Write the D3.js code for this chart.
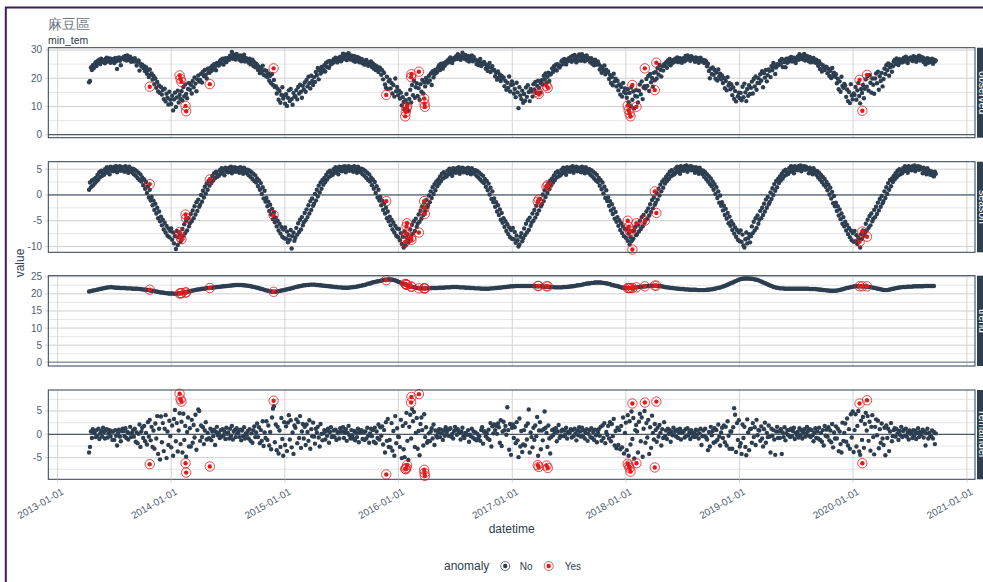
<!DOCTYPE html>
<html><head><meta charset="utf-8">
<script src="https://cdn.jsdelivr.net/npm/d3@7"></script>
<style>
body{margin:0;background:#fff}
svg text{font-family:"Liberation Sans",Arial,sans-serif}
</style>
</head><body>
<svg id="chart" width="983" height="582"></svg>
<script>
const titleText = "麻豆區";
const subtitleText = "min_tem";
const facetKeys = ["observed", "season", "trend", "remainder"];
const startDate = "2013-04-12";
const pointStepDays = 3;   // observed / season / remainder sampling
const trendStepDays = 5;   // trend sampling

const observed = [
18.6,19.0,23.8,22.9,24.6,23.5, 24.9,25.7,24.3,26.1,25.4,26.6,25.0,26.9,25.8,26.4, 26.2,25.3,26.9,27.3,25.9,26.6,27.0,25.5,26.8,26.1, 26.7,25.4,27.2,26.0,23.3,26.5,27.4,26.2,24.6,26.9,27.1, 27.5,26.6,27.9,26.3,28.1,27.0,26.4,27.6,25.8,26.9, 26.7,25.9,27.1,26.0,24.5,25.8,26.3,22.7,25.1,24.2, 24.8,23.6,24.3,22.5,23.9,21.6,22.9,20.4,23.1,21.2, 21.7,19.5,20.8,17.9,19.9,16.6,18.7,15.3,17.4,14.8, 16.9,14.2,15.8,12.6,16.3,11.8,14.5,13.1,10.7,15.2,12.4,
10.9,13.8,8.6,12.5,14.9,9.8,13.2,15.6,11.4,14.1,12.7, 15.4,12.1,16.9,13.6,17.8,14.4,12.9,16.2,18.3, 15.9,17.7,14.6,19.0,16.8,20.3,18.1,15.4,19.6,21.0,18.8, 19.4,21.6,18.5,22.3,20.8,22.9,21.2,19.9,23.4,22.1, 21.9,23.7,22.6,24.4,23.1,25.0,24.2,22.8,25.4,24.7, 24.5,25.9,26.5,25.2,26.9,24.8,26.3,27.1,25.7,26.6, 27.2,26.5,28.0,27.4,29.3,26.9,28.3,27.7,26.6,28.6,27.8, 27.4,26.5,28.1,26.0,27.6,26.8,28.3,25.9,27.2,26.4, 26.4,25.5,26.9,24.9,25.9,26.6,24.3,25.7,23.9,25.1, 24.7,22.9,24.1,21.8,23.5,22.3,24.4,21.2,22.8,20.9, 22.6,20.4,21.7,19.1,20.9,18.2,21.5,17.6,19.4,16.9, 17.2,14.6,16.3,12.4,15.5,11.3,14.1,16.8,12.8,13.9,
11.0,14.3,10.2,13.1,15.7,11.9,16.2,12.6,10.6,14.8,13.4, 13.6,15.8,12.5,16.9,14.6,17.7,15.2,13.1,17.3, 16.0,18.5,15.2,19.4,17.1,20.5,18.2,16.4,20.9,19.0,17.6, 20.4,18.7,22.2,21.0,23.6,19.6,22.8,21.7,24.0,22.4, 23.2,24.6,22.4,25.5,24.0,25.9,23.7,26.1,24.9,25.6, 25.3,26.7,25.9,27.3,26.2,25.6,27.1,26.4,27.6,26.0, 27.4,28.7,26.8,27.9,28.4,26.4,27.7,28.9,27.1,26.6,28.1, 27.2,26.2,27.9,25.8,26.9,27.5,26.0,27.3,25.6,26.7, 26.8,25.3,26.2,24.8,25.9,26.5,25.0,24.4,25.7,24.9, 25.9,24.0,25.2,23.4,24.7,22.9,24.3,23.1,22.2,23.8, 23.5,21.2,22.8,19.6,21.9,17.8,16.6,20.5,16.2,18.9, 19.5,16.4,18.3,14.6,17.6,13.5,19.9,15.4,16.9,14.0,
15.6,12.8,14.9,10.4,13.3,11.6,9.1,12.2,14.4,10.9,8.5, 12.7,15.9,11.4,17.6,14.0,19.1,13.1,16.8,18.2, 13.7,16.5,12.4,17.9,15.2,19.4,14.6,18.6,17.1,20.1,19.0, 18.5,20.8,19.2,21.7,17.6,22.5,20.3,21.4,23.0,21.9, 22.3,23.9,24.6,22.9,25.1,24.0,23.4,25.3,24.4,25.7, 25.2,26.3,25.6,26.9,27.4,26.0,25.4,27.0,26.5,27.3, 27.7,26.8,28.5,27.1,28.0,26.5,27.6,29.0,27.3,26.9,28.2, 27.0,26.3,27.9,25.9,27.3,26.6,28.1,26.0,27.5,26.4, 26.6,25.0,26.2,24.7,25.6,26.8,24.3,25.3,24.9,25.8, 25.1,23.4,24.6,22.6,24.0,25.4,22.2,23.7,24.3,22.8, 22.9,20.7,21.9,19.5,22.4,20.2,21.3,19.0,20.8,19.9, 20.3,17.2,19.0,15.9,18.4,16.6,20.6,15.3,17.7,18.9,
17.8,14.6,16.2,13.3,18.4,15.0,9.4,16.8,13.9,12.6,15.6, 11.3,14.4,12.0,16.7,13.4,17.5,15.1,11.9,16.2, 15.3,13.5,17.9,16.0,18.7,14.8,17.3,19.1,16.6,14.9,18.2, 19.3,17.8,20.9,19.6,21.7,18.4,20.5,22.0,19.0,21.3, 21.6,23.5,22.3,24.3,23.2,24.8,22.7,25.0,24.1,23.8, 24.4,25.9,26.4,25.0,26.8,25.5,24.9,26.6,26.0,27.1, 26.7,27.5,25.8,27.9,26.4,28.2,27.0,25.6,27.7,26.3,28.4, 27.6,26.2,28.5,26.8,27.8,26.0,27.3,28.1,26.5,27.1, 26.9,25.6,27.1,25.1,26.3,24.6,26.6,25.4,24.8,25.9, 25.0,23.1,24.3,21.9,23.6,22.6,24.5,21.4,23.0,22.2, 22.4,19.7,21.2,18.3,20.4,17.5,21.6,18.9,19.8,17.1, 19.1,15.7,17.8,14.2,16.9,13.5,18.3,15.1,16.4,14.7,
13.1,16.1,11.5,14.8,10.1,16.9,12.4,15.3,9.4,13.7,15.8, 13.5,11.4,15.6,17.8,14.3,18.9,12.6,16.7,17.2, 16.4,19.7,17.3,20.8,15.5,21.5,18.6,20.1,17.0,21.9,19.3, 22.2,19.9,23.6,21.3,24.7,23.0,20.6,24.2,22.7,25.0, 24.3,25.6,23.7,26.3,25.1,26.8,24.6,26.0,25.4,26.5, 25.8,26.9,26.1,27.4,25.7,26.6,27.1,26.3,25.5,26.8, 27.1,26.0,27.9,26.5,28.1,26.8,27.5,26.2,27.8,26.7,27.3, 26.9,25.8,27.4,26.1,27.1,25.5,26.7,27.3,25.9,26.4, 26.5,25.4,26.3,25.9,24.2,25.1,22.6,20.0,23.4,21.5, 23.8,21.2,22.9,19.8,22.0,19.2,23.1,20.5,21.6,19.6, 21.0,18.3,20.1,16.5,19.0,15.7,20.4,17.4,18.2,16.1, 17.8,14.0,16.7,12.7,15.5,11.8,18.1,13.6,14.9,12.9,
14.8,12.2,17.0,13.3,18.1,15.0,11.9,16.2,13.8,17.5,14.4, 16.6,18.8,14.6,19.7,17.1,20.6,15.9,18.3,20.0, 18.3,21.4,19.2,22.5,16.8,21.8,20.2,22.9,18.9,21.1,23.1, 22.6,20.4,24.3,22.9,25.4,24.1,21.5,23.8,25.0,24.6, 24.7,26.2,25.2,26.8,24.0,26.5,25.7,23.9,26.9,25.5, 25.8,27.1,26.2,27.5,25.9,26.8,27.3,26.0,25.4,26.9, 27.6,26.5,28.5,27.0,28.0,26.7,27.7,28.6,26.3,27.4,27.9, 27.1,26.0,27.5,25.6,26.9,25.8,27.2,26.4,25.5,26.6, 25.6,24.4,26.0,23.3,25.0,22.4,24.6,23.8,22.9,24.1, 24.0,21.8,23.3,20.8,22.6,20.1,23.6,21.2,22.0,20.5, 21.4,18.2,19.8,16.1,18.9,15.2,20.5,17.3,16.6,18.0, 17.4,13.4,16.0,11.9,15.1,11.2,17.9,13.9,12.5,14.6,
14.1,16.9,12.4,15.7,18.3,13.7,11.1,16.2,14.8,17.6,12.9, 16.3,19.6,17.0,20.8,15.6,21.1,18.4,14.9,19.9, 17.7,14.5,19.9,21.7,18.2,22.3,15.9,20.7,19.0,21.9,17.1, 19.7,23.4,21.5,24.6,22.8,25.2,20.9,23.9,24.8,22.3, 24.2,25.9,26.5,25.0,27.0,26.2,24.7,26.7,25.6,26.4, 25.6,26.8,27.3,25.9,27.6,26.3,25.4,27.0,26.6,27.4, 27.1,26.1,27.8,26.8,27.5,25.8,27.2,26.5,28.0,26.3,27.6, 26.7,27.4,25.7,26.9,24.9,26.3,27.1,25.5,26.8,26.0, 25.7,26.9,25.1,26.6,25.9,26.3
];

const season = [
1.0,2.4,1.5,2.8,1.8,3.0, 2.2,3.3,2.6,3.9,3.0,4.4,3.5,4.7,3.7,4.2, 3.9,5.0,4.3,5.4,4.5,5.1,4.0,5.5,4.7,5.2, 4.6,5.5,4.9,5.6,4.4,5.3,5.0,5.6,4.7,5.4,4.8, 5.4,4.5,5.6,4.8,5.2,4.3,5.5,4.7,5.1,4.4, 5.1,4.0,4.9,3.7,4.6,3.3,4.3,2.9,4.0,2.6, 3.4,1.9,3.0,1.2,2.5,0.4,1.7,-0.5,1.0,-1.1, -0.4,-2.0,-1.1,-2.9,-1.7,-3.6,-2.5,-4.5,-3.2,-5.1, -4.2,-5.9,-4.8,-6.7,-5.4,-7.3,-6.0,-7.9,-6.5,-8.2,-7.0,
-6.5,-8.7,-7.3,-9.4,-8.0,-10.5,-7.0,-9.7,-8.2,-7.5,-9.1, -8.5,-6.6,-7.9,-5.7,-7.4,-5.0,-6.9,-4.5,-6.1, -5.5,-3.7,-5.1,-3.0,-4.5,-2.2,-3.8,-1.4,-3.1,-0.9,-2.3, -1.9,0.0,-1.3,0.8,-0.5,1.6,0.3,2.2,1.0,2.7, 1.8,3.1,2.3,3.7,2.8,4.2,3.3,4.5,3.5,4.0, 3.7,4.8,4.1,5.2,4.3,4.9,3.8,5.3,4.5,5.0, 4.4,5.3,4.7,5.5,4.2,5.1,4.8,5.4,4.5,5.2,4.6, 5.2,4.3,5.4,4.6,5.0,4.1,5.3,4.5,4.9,4.2, 4.9,3.8,4.7,3.5,4.4,3.1,4.1,2.7,3.8,2.4, 3.2,1.7,2.8,1.0,2.3,0.2,1.5,-0.7,0.8,-1.3, -0.6,-2.2,-1.3,-3.1,-1.9,-3.8,-2.7,-4.7,-3.4,-5.3, -4.4,-6.1,-5.0,-6.9,-5.6,-7.5,-6.2,-8.1,-6.7,-8.4,
-6.3,-8.5,-7.1,-9.2,-7.8,-8.7,-6.8,-10.4,-8.0,-7.3,-8.9, -8.3,-6.4,-7.7,-5.5,-7.2,-4.8,-6.7,-4.3,-5.9, -5.3,-3.5,-4.9,-2.8,-4.3,-2.0,-3.6,-1.2,-2.9,-0.7,-2.1, -1.7,0.2,-1.1,1.0,-0.3,1.8,0.5,2.4,1.2,2.9, 2.0,3.3,2.5,3.9,3.0,4.4,3.5,4.7,3.7,4.2, 3.9,5.0,4.3,5.4,4.5,5.1,4.0,5.5,4.7,5.2, 4.6,5.5,4.9,5.6,4.4,5.3,5.0,5.6,4.7,5.4,4.8, 5.4,4.5,5.6,4.8,5.2,4.3,5.5,4.7,5.1,4.4, 5.1,4.0,4.9,3.7,4.6,3.3,4.3,2.9,4.0,2.6, 3.4,1.9,3.0,1.2,2.5,0.4,1.7,-0.5,1.0,-1.1, -0.4,-2.0,-1.1,-2.9,-1.7,-3.6,-2.5,-4.5,-3.2,-5.1, -4.2,-5.9,-4.8,-6.7,-5.4,-7.3,-6.0,-7.9,-6.5,-8.2,
-6.6,-8.8,-7.4,-9.5,-8.1,-10.2,-7.1,-9.8,-8.3,-7.6,-9.2, -8.6,-6.7,-8.0,-5.8,-7.5,-5.1,-7.0,-4.6,-6.2, -5.6,-3.8,-5.2,-3.1,-4.6,-2.3,-3.9,-1.5,-3.2,-1.0,-2.4, -2.0,-0.1,-1.4,0.7,-0.6,1.5,0.2,2.1,0.9,2.6, 1.7,3.0,2.2,3.6,2.7,4.1,3.2,4.4,3.4,3.9, 3.6,4.7,4.0,5.1,4.2,4.8,3.7,5.2,4.4,4.9, 4.3,5.2,4.6,5.4,4.1,5.0,4.7,5.3,4.4,5.1,4.5, 5.1,4.2,5.3,4.5,4.9,4.0,5.2,4.4,4.8,4.1, 4.8,3.7,4.6,3.4,4.3,3.0,4.0,2.6,3.7,2.3, 3.1,1.6,2.7,0.9,2.2,0.1,1.4,-0.8,0.7,-1.4, -0.7,-2.3,-1.4,-3.2,-2.0,-3.9,-2.8,-4.8,-3.5,-5.4, -4.5,-6.2,-5.1,-7.0,-5.7,-7.6,-6.3,-8.2,-6.8,-8.5,
-6.4,-8.6,-7.2,-9.3,-7.9,-8.8,-10.0,-9.6,-8.1,-7.4,-9.0, -8.4,-6.5,-7.8,-5.6,-7.3,-4.9,-6.8,-4.4,-6.0, -5.4,-3.6,-5.0,-2.9,-4.4,-2.1,-3.7,-1.3,-3.0,-0.8,-2.2, -1.8,0.1,-1.2,0.9,-0.4,1.7,0.4,2.3,1.1,2.8, 1.9,3.2,2.4,3.8,2.9,4.3,3.4,4.6,3.6,4.1, 3.8,4.9,4.2,5.3,4.4,5.0,3.9,5.4,4.6,5.1, 4.5,5.4,4.8,5.6,4.3,5.2,4.9,5.5,4.6,5.3,4.7, 5.3,4.4,5.5,4.7,5.1,4.2,5.4,4.6,5.0,4.3, 5.0,3.9,4.8,3.6,4.5,3.2,4.2,2.8,3.9,2.5, 3.3,1.8,2.9,1.1,2.4,0.3,1.6,-0.6,0.9,-1.2, -0.5,-2.1,-1.2,-3.0,-1.8,-3.7,-2.6,-4.6,-3.3,-5.2, -4.3,-6.0,-4.9,-6.8,-5.5,-7.4,-6.1,-8.0,-6.6,-8.3,
-6.7,-8.9,-7.5,-9.6,-8.2,-9.0,-7.0,-8.5,-6.9,-6.2,-7.8, -7.6,-5.8,-7.1,-5.0,-6.6,-4.3,-6.1,-3.9,-5.4, -4.9,-3.2,-4.6,-2.6,-4.0,-1.8,-3.3,-1.0,-2.6,-0.5,-1.9, -1.5,0.4,-0.9,1.2,-0.1,2.0,0.7,2.6,1.4,3.0, 2.2,3.5,2.7,4.0,3.1,4.5,3.6,4.8,3.8,4.3, 4.0,5.1,4.4,5.5,4.6,5.2,4.1,5.6,4.8,5.3, 4.7,5.6,5.0,5.7,4.5,5.4,5.1,5.6,4.8,5.5,4.9, 5.2,4.3,5.4,4.6,5.0,4.1,5.3,4.5,4.8,4.0, 4.7,3.5,4.4,3.1,4.0,2.6,3.6,2.1,3.2,1.7, 2.6,1.0,2.1,0.2,1.5,-0.6,0.7,-1.5,-0.1,-2.1, -1.4,-3.0,-2.1,-3.9,-2.7,-4.6,-3.5,-5.5,-4.2,-6.0, -5.1,-6.8,-5.7,-7.5,-6.3,-8.1,-6.8,-8.7,-7.3,-9.0,
-6.9,-9.1,-7.7,-9.8,-10.2,-8.6,-7.3,-9.4,-8.4,-7.6,-9.2, -8.0,-6.1,-7.4,-5.2,-6.9,-4.5,-6.4,-4.0,-5.6, -4.8,-3.1,-4.5,-2.5,-3.9,-1.7,-3.2,-0.9,-2.5,-0.4,-1.8, -1.4,0.5,-0.8,1.3,0.0,2.1,0.8,2.7,1.5,3.1, 2.3,3.6,2.8,4.1,3.2,4.6,3.7,4.9,3.9,4.4, 4.1,5.2,4.5,5.6,4.7,5.3,4.2,5.6,4.9,5.4, 4.8,5.6,5.1,5.7,4.6,5.5,5.2,5.6,4.9,5.5,5.0, 5.1,4.2,5.3,4.5,4.9,4.0,5.2,4.4,4.7,3.9, 4.6,3.4,4.3,3.0,3.9,2.5,3.5,2.0,3.1,1.6, 2.5,0.9,2.0,0.1,1.4,-0.7,0.6,-1.6,-0.2,-2.2, -1.5,-3.1,-2.2,-4.0,-2.8,-4.7,-3.6,-5.6,-4.3,-6.1, -5.2,-6.9,-5.8,-7.6,-6.4,-8.2,-6.9,-8.8,-7.4,-9.1,
-7.0,-9.0,-7.8,-9.5,-8.3,-8.8,-10.2,-7.6,-8.5,-6.9,-7.9, -7.5,-5.6,-6.9,-4.8,-6.4,-4.1,-5.9,-3.6,-5.1, -4.6,-2.9,-4.3,-2.3,-3.7,-1.5,-3.0,-0.8,-2.3,-0.2,-1.6, -1.2,0.7,-0.6,1.5,0.2,2.3,1.0,2.9,1.7,3.2, 2.5,3.7,3.0,4.2,3.4,4.7,3.8,5.0,4.0,4.5, 4.2,5.2,4.6,5.6,4.7,5.3,4.3,5.6,4.9,5.4, 4.8,5.6,5.1,5.7,4.6,5.5,5.2,5.6,4.9,5.5,5.0, 5.1,4.2,5.3,4.5,4.9,4.0,5.2,4.4,4.7,3.9, 4.6,3.8,4.4,3.6,4.5,4.1
];

const trend = [
20.7,20.8,20.9,21.0, 21.1,21.2,21.3,21.4,21.5,21.6, 21.7,21.8,21.9,21.9,22.0,21.9, 21.9,21.8,21.8,21.8,21.7,21.7,21.7, 21.7,21.6,21.6,21.6,21.6,21.5, 21.5,21.5,21.5,21.4,21.4,21.3, 21.3,21.2,21.2,21.1,21.0,20.9, 20.9,20.8,20.7,20.6,20.5,20.4, 20.4,20.3,20.2,20.2,20.1,20.1,
20.1,20.1,20.0,20.0,20.1,20.2, 20.2,20.3,20.4,20.5,20.6,20.7, 20.8,20.9,21.0,21.1,21.2,21.3, 21.3,21.4,21.5,21.5,21.6,21.7, 21.7,21.8,21.8,21.9,21.9,22.0, 22.0,22.1,22.1,22.2,22.2,22.3, 22.3,22.4,22.4,22.5,22.5,22.6,22.6, 22.6,22.6,22.6,22.5,22.5,22.4, 22.4,22.3,22.2,22.1,22.0,21.9, 21.8,21.7,21.5,21.4,21.3,21.1, 21.0,20.9,20.8,20.7,20.6,20.6, 20.6,20.7,20.8,20.9,21.0,21.1,
21.2,21.3,21.4,21.5,21.6,21.7, 21.9,22.0,22.1,22.2,22.3,22.4, 22.5,22.5,22.6,22.6,22.7,22.7, 22.7,22.7,22.6,22.6,22.5,22.5, 22.4,22.4,22.3,22.3,22.2,22.2, 22.1,22.1,22.0,22.0,21.9,21.9, 21.9,21.8,21.8,21.8,21.8,21.8,21.9, 21.9,22.0,22.0,22.1,22.2,22.3, 22.4,22.5,22.6,22.7,22.9,23.0, 23.1,23.3,23.4,23.5,23.6,23.7, 23.8,23.9,24.0,24.1,24.1,24.2, 24.2,24.2,24.1,24.0,23.9,23.7,
23.5,23.3,23.1,22.9,22.7,22.5, 22.4,22.2,22.1,22.0,21.9,21.8, 21.7,21.7,21.6,21.6,21.6,21.6, 21.6,21.6,21.6,21.7,21.7,21.7, 21.7,21.7,21.8,21.8,21.8,21.8, 21.9,21.9,21.9,21.9,22.0,22.0, 22.0,22.0,22.0,21.9,21.9,21.9,21.9, 21.8,21.8,21.8,21.7,21.7,21.7, 21.6,21.6,21.6,21.6,21.5,21.5, 21.5,21.5,21.5,21.5,21.6,21.6, 21.6,21.7,21.7,21.8,21.8,21.9, 21.9,22.0,22.0,22.1,22.1,22.2,
22.2,22.2,22.3,22.3,22.3,22.3, 22.3,22.3,22.3,22.3,22.3,22.3, 22.3,22.3,22.3,22.2,22.2,22.2, 22.2,22.2,22.1,22.1,22.1,22.0, 22.0,22.0,22.0,21.9,21.9,21.9, 21.9,21.9,21.9,22.0,22.0,22.0, 22.1,22.1,22.2,22.2,22.3,22.4,22.5, 22.5,22.6,22.7,22.8,22.9,23.0, 23.0,23.1,23.2,23.2,23.3,23.3, 23.3,23.3,23.3,23.2,23.2,23.1, 23.0,22.9,22.8,22.6,22.5,22.4, 22.3,22.2,22.0,21.9,21.8,21.8,
21.7,21.7,21.7,21.7,21.8,21.8, 21.9,21.9,22.0,22.0,22.1,22.1, 22.2,22.2,22.3,22.3,22.4,22.4, 22.4,22.4,22.4,22.3,22.3,22.2, 22.1,22.0,21.9,21.9,21.8,21.7, 21.7,21.6,21.6,21.5,21.5,21.4, 21.4,21.4,21.3,21.3,21.3,21.2,21.2, 21.2,21.2,21.2,21.1,21.1,21.1, 21.1,21.1,21.1,21.2,21.2,21.3, 21.3,21.4,21.5,21.6,21.7,21.8, 21.9,22.1,22.2,22.4,22.6,22.8, 23.0,23.2,23.4,23.6,23.8,24.0,
24.2,24.3,24.4,24.5,24.5,24.5, 24.5,24.4,24.4,24.3,24.2,24.1, 24.0,23.8,23.6,23.4,23.2,23.0, 22.8,22.6,22.4,22.2,22.0,21.9, 21.8,21.7,21.6,21.6,21.6,21.5, 21.5,21.5,21.5,21.5,21.5,21.5, 21.5,21.5,21.5,21.5,21.5,21.5,21.5, 21.5,21.5,21.4,21.4,21.4,21.4, 21.4,21.3,21.3,21.2,21.2,21.1, 21.1,21.0,21.0,20.9,20.9,20.9, 20.9,20.9,21.0,21.1,21.2,21.3, 21.4,21.6,21.7,21.8,21.9,22.0,
22.1,22.2,22.2,22.2,22.2,22.2, 22.2,22.2,22.1,22.1,22.0,22.0, 21.9,21.8,21.7,21.6,21.5,21.4, 21.3,21.2,21.1,21.1,21.1,21.2, 21.3,21.4,21.5,21.6,21.7,21.8, 21.9,21.9,22.0,22.0,22.0,22.1, 22.1,22.1,22.1,22.2,22.2,22.2,22.2, 22.2,22.2,22.2,22.3,22.3,22.3, 22.3,22.3,22.3,22.3
];

const remainder = [
-3.9,-2.7,0.6,-0.8,1.1,0.3, 0.4,-0.6,0.9,-0.3,1.2,-1.0,0.2,0.7,-0.5,1.4, 0.5,-0.9,0.8,1.1,-0.7,0.2,0.9,-0.4,0.6,-1.2, 0.6,-1.2,0.9,-0.3,-2.4,0.3,1.0,-0.5,-1.5,0.7,1.2, 0.7,-0.4,1.3,-0.8,0.5,-1.1,0.2,1.6,-0.6,0.3, 0.9,-0.5,1.2,-1.6,0.4,-1.9,0.1,2.1,-2.7,0.6, 1.4,-0.8,1.8,-1.5,0.3,-2.2,2.6,-0.5,3.1,-1.3, 1.6,-2.7,0.8,-3.1,2.3,-0.9,3.9,-4.2,1.2,-5.4, 3.8,-1.7,2.4,-3.6,1.2,4.1,-5.1,0.6,-2.3,2.9,-0.4,
-2.8,1.9,-4.6,3.3,5.2,-1.5,2.4,-3.7,0.8,4.5,-2.1, 2.7,-3.9,4.4,-1.2,1.8,-4.8,0.5,3.6,-2.6, 1.3,-2.6,3.1,-1.8,2.0,-0.7,4.2,-3.3,0.9,5.3,5.0, -1.4,1.9,-0.6,1.5,-2.1,0.8,2.6,-1.1,0.3,-0.9, -0.9,1.2,-1.3,0.6,-0.4,1.0,-2.3,0.5,1.6,-0.2, 0.3,-0.8,0.9,-0.5,1.1,-0.2,0.6,-1.0,1.4,0.1, 0.4,-0.9,1.2,-0.3,1.8,-1.1,0.6,0.9,-0.6,1.3,0.2, 0.5,-0.6,1.0,-1.3,0.8,-0.4,1.5,-0.9,0.2,-0.1, 0.7,-0.9,1.1,-1.4,0.2,-1.8,0.9,1.7,-0.6,0.4, 2.3,-0.6,1.5,-1.9,0.9,-1.4,2.8,-2.5,0.4,-0.8, 2.8,-1.2,1.9,-2.4,0.5,-3.2,3.6,5.5,6.0,-1.7, 2.1,-3.4,1.6,-4.1,0.8,-2.7,3.5,-1.0,-4.6,2.6,
-2.3,1.7,-3.6,2.5,4.1,-1.1,3.0,-2.8,0.4,-4.2,1.9, 1.4,3.2,-1.9,2.6,-0.8,3.9,-2.9,0.6,2.2, -0.9,1.6,-2.3,2.1,0.5,-1.4,3.0,-3.1,1.1,-0.4,2.5, -0.5,-2.0,1.2,0.4,1.6,-0.7,-2.6,2.2,0.1,-1.3, 0.2,0.9,-1.1,0.7,-0.3,1.2,-1.8,0.5,1.5,-0.6, -0.4,0.8,-0.6,1.0,-1.2,0.5,0.2,-0.9,1.3,0.6, 0.6,1.5,-0.8,0.4,1.1,-1.4,0.3,1.8,-0.2,-0.9,0.9, -0.2,-0.9,0.7,-1.3,0.4,-0.6,1.2,-1.7,0.3,0.8, 0.8,-1.0,0.5,-1.2,0.6,-0.9,1.4,-0.3,-1.8,0.2, 1.2,-0.4,0.9,-1.6,1.4,-1.9,0.6,-0.8,2.1,-1.1, 1.5,-0.3,1.7,-2.2,0.9,-3.9,2.6,-1.4,3.3,-2.7, -1.2,-2.8,2.4,-3.5,0.7,-4.6,3.9,-1.9,1.3,-0.5,
-0.6,-2.7,3.1,-5.1,1.8,-3.2,-4.9,2.4,4.6,-1.4,-5.5, 1.6,4.2,-0.9,5.4,2.8,4.8,-2.7,0.3,3.5, -3.1,0.7,-4.5,2.2,3.6,0.9,-2.4,4.3,-0.6,1.5,-1.8, -1.4,0.2,-1.5,0.6,1.3,-0.9,2.1,-2.3,0.8,-0.3, -0.7,0.4,1.1,-0.6,1.0,0.2,-1.2,0.8,-0.3,1.5, 0.4,0.9,-0.3,1.1,1.3,-0.5,0.1,-0.9,0.7,1.6, 0.9,-0.1,1.1,0.2,0.6,-1.1,0.5,1.4,-0.4,-0.8,0.3, 0.1,-0.1,0.9,-1.6,-0.1,-0.4,1.2,-0.7,0.6,-1.0, 0.4,-1.3,0.1,-0.8,-0.4,-1.4,0.9,1.5,-2.0,0.6, 0.6,-0.4,0.3,-0.9,1.0,-1.2,2.4,-2.6,1.7,0.2, 2.1,0.9,1.8,0.1,2.3,1.5,-1.8,3.0,-2.5,0.6, 2.7,0.9,1.8,-0.1,5.8,0.9,-3.3,2.2,-4.4,1.4,
2.1,-0.8,1.5,-1.9,2.6,-1.3,-4.9,3.4,-2.6,0.7,-3.8, -2.2,0.9,-2.4,1.8,-1.1,2.3,5.3,-3.9,0.4, -0.6,-2.8,1.4,-1.2,1.9,-0.4,3.7,-4.6,0.8,2.6,-3.2, 0.8,-1.3,1.1,4.9,1.4,0.3,-2.7,1.9,-0.9,-4.1, -0.6,0.9,-0.2,1.1,0.4,1.3,-1.5,0.6,2.0,-0.8, -0.3,0.7,1.0,-0.4,0.8,-0.1,1.4,-0.9,0.5,0.2, 0.5,1.1,-0.7,0.9,-0.4,1.2,0.2,-1.3,0.8,-0.2,1.5, 0.6,-0.5,1.4,-0.3,0.8,-0.9,0.3,1.1,-1.4,0.1, 0.9,-0.6,1.3,-0.8,0.5,-1.2,1.0,-0.2,-1.7,0.4, 1.1,-0.3,1.6,-1.4,1.9,-0.8,2.4,-1.9,0.5,-0.1, 1.8,-0.9,2.6,-1.5,2.2,-0.4,3.3,-2.4,0.7,-3.0, 1.4,-2.3,0.9,-3.2,1.8,-2.8,3.6,-4.1,0.3,2.5,
-3.4,4.1,-4.6,2.8,-2.2,4.9,-1.0,3.5,-5.2,0.9,2.0, 0.6,-3.9,2.7,4.4,-1.5,3.6,-4.8,1.2,5.0, -1.8,2.4,-0.7,3.1,-4.2,1.5,-2.9,4.0,0.3,-1.1,2.2, 0.9,-1.6,1.4,-0.5,2.0,0.3,-2.4,1.1,-0.8,2.6, -0.4,0.8,-1.0,1.2,0.1,0.9,-1.6,0.5,-0.2,1.4, -0.2,0.7,-0.5,1.0,-0.8,0.4,1.2,-1.1,0.3,0.6, 0.6,-0.7,1.1,-0.3,1.3,-0.2,0.5,-1.0,0.9,0.2,-0.5, 0.4,-0.6,1.0,-0.1,0.8,-0.9,0.2,1.2,-2.3,-0.4, 0.8,-0.4,1.2,-0.7,-1.1,-3.4,0.5,-2.6,1.6,-0.2, 0.7,-1.8,1.3,-1.6,0.9,-1.2,2.1,-0.5,-2.4,0.4, 1.4,-0.8,1.9,-1.7,1.6,-2.4,2.8,-0.3,-3.1,0.6, 0.6,-3.1,1.5,5.6,4.2,-3.8,2.4,-1.2,3.0,-2.6,
-1.9,-4.2,2.1,-0.8,1.6,-2.7,-4.5,3.2,0.4,-3.4,1.1, 1.2,-1.8,2.4,-0.6,1.5,-2.3,3.1,-0.2,0.9, 0.8,-1.4,1.7,-0.9,-2.6,1.1,2.5,-1.8,0.3,-0.6,1.9, -0.5,-3.9,1.2,-0.3,0.9,-1.1,-4.4,0.6,1.6,-0.8, 0.6,-0.8,1.1,-4.2,0.4,-0.6,1.5,-1.3,0.2,0.9, -0.2,0.9,-0.6,1.2,-0.4,0.7,1.4,-1.0,0.3,-0.1, 0.5,-0.7,1.3,-0.2,0.8,-0.9,0.4,1.1,-0.5,0.2,1.6, 0.7,-0.3,1.1,-0.6,0.9,-0.2,-1.5,0.4,1.3,-0.8, 0.6,-0.9,1.4,-1.2,0.3,-1.6,0.9,-2.4,1.8,-0.3, 1.0,-0.5,1.5,-1.3,0.8,-1.7,2.2,-2.8,0.4,-0.9, 1.7,-0.9,1.2,-3.6,0.6,-2.1,-3.9,2.5,-1.4,0.3, 2.3,-1.6,3.4,-2.4,1.1,-3.1,4.3,-0.7,4.9,-3.8,
0.9,4.3,-2.6,1.8,5.0,-3.7,-4.4,2.9,-1.2,3.7,-2.9, 2.2,4.6,0.8,3.9,-1.4,2.7,-3.5,1.6,4.1, -0.6,-4.3,1.6,3.2,-0.2,2.9,-3.0,1.1,-1.8,2.3,-0.9, -2.3,1.4,-4.5,1.9,-0.8,1.2,-3.6,0.6,2.4,-1.5, -0.4,0.9,1.3,-0.5,1.1,0.2,-1.2,0.7,-0.2,1.6, -0.6,0.7,1.0,-0.3,1.2,-0.5,0.4,-1.1,0.8,0.1, 0.4,-0.8,0.9,-0.2,0.7,-1.0,0.3,1.3,-0.6,0.5,-0.1, 0.5,1.0,-0.7,0.6,-2.4,0.2,1.2,-0.9,0.3,-0.4, -0.4,0.8,-0.9,0.5,-2.1,0.2
];

const anomalyDates = ["2013-10-24","2014-01-28","2014-01-31","2014-02-03","2014-02-16","2014-02-18","2014-05-05","2014-11-26","2015-11-23","2016-01-23","2016-01-25","2016-01-27","2016-01-29","2016-02-11","2016-02-12","2016-03-07","2016-03-24","2016-03-25","2016-03-26","2017-03-24","2017-03-27","2017-04-21","2017-04-25","2018-01-07","2018-01-10","2018-01-13","2018-01-16","2018-01-22","2018-02-04","2018-03-03","2018-04-04","2018-04-09","2020-01-22","2020-01-31","2020-02-15"];
const anomalyObserved = [17.0,21.0,19.8,18.7,10.2,8.3,17.9,23.5,14.1,6.5,8.0,9.4,10.1,20.4,21.4,22.3,12.8,11.0,9.9,15.0,14.4,17.3,16.6,10.3,8.7,7.5,6.5,17.6,9.9,23.5,15.8,25.5,19.4,8.5,21.2];
const anomalySeason = [2.1,-7.2,-8.2,-8.6,-3.8,-4.5,3.0,-3.9,-1.2,-9.1,-7.5,-6.1,-5.5,-8.3,-8.7,-7.3,-1.2,-2.5,-3.7,-1.3,-0.9,1.6,1.9,-5.0,-6.2,-6.9,-7.1,-10.6,-5.5,-5.0,0.7,-3.5,-9.1,-7.1,-8.1];
const anomalyTrend = [21.2,20.1,20.2,20.2,20.4,20.4,21.7,20.6,24.0,22.9,22.8,22.7,22.6,22.1,22.1,21.6,21.6,21.6,21.6,22.3,22.3,22.2,22.2,21.7,21.7,21.7,21.7,21.7,21.9,22.2,22.4,22.4,22.2,22.2,22.2];
const anomalyRemainder = [-6.4,8.7,7.5,7.0,-6.2,-8.2,-6.9,7.2,-8.6,-7.4,-7.5,-7.2,-6.6,6.8,8.0,8.6,-7.6,-8.3,-8.9,-6.6,-7.0,-6.7,-7.2,-6.3,-6.7,-7.2,-8.0,6.6,-6.2,6.8,-7.1,7.0,6.6,-6.2,7.3];

const observedTicks = [0, 10, 20, 30];
const seasonTicks = [-10, -5, 0, 5];
const trendTicks = [0, 5, 10, 15, 20, 25];
const remainderTicks = [-5, 0, 5];
const xTickLabels = ["2013-01-01","2014-01-01","2015-01-01","2016-01-01","2017-01-01","2018-01-01","2019-01-01","2020-01-01","2021-01-01"];
const legendTitle = "anomaly";
const legendLabels = ["No", "Yes"];

// ---------- drawing ----------
const colNo = "#2c3e50", colYes = "#e31a1c", blue = "#2c3e50";
const parse = d3.utcParse("%Y-%m-%d");
const t0 = parse(startDate);
const seriesByKey = {observed, season, trend, remainder};
const stepByKey = {observed: pointStepDays, season: pointStepDays, trend: trendStepDays, remainder: pointStepDays};
const anomByKey = {observed: anomalyObserved, season: anomalySeason, trend: anomalyTrend, remainder: anomalyRemainder};
const ticksByKey = {observed: observedTicks, season: seasonTicks, trend: trendTicks, remainder: remainderTicks};
const aDates = anomalyDates.map(parse);

const svg = d3.select("#chart");
svg.append("rect").attr("width", 983).attr("height", 582).attr("fill", "#fff");
svg.append("rect").attr("x", 5.8).attr("y", 7.5).attr("width", 1100).attr("height", 700)
  .attr("fill", "none").attr("stroke", "#3d1c5e").attr("stroke-width", 2);

const left = 48.3, right = 975;
const x = d3.scaleUtc().domain([parse("2012-12-02"), parse("2021-01-27")]).range([left, right]);

const layout = {
  observed:  {top: 47.7, bottom: 137.7, domain: [-1.06, 30.81]},
  season:    {top: 161.7, bottom: 252.3, domain: [-11.13, 6.45]},
  trend:     {top: 275.7, bottom: 366.0, domain: [-1.08, 25.3]},
  remainder: {top: 390.0, bottom: 479.3, domain: [-9.64, 9.49]}
};

svg.append("text").attr("x", 48).attr("y", 28.5).text(titleText)
  .attr("font-family", "'Noto Sans CJK TC','Noto Sans CJK SC',sans-serif")
  .attr("font-size", 14).attr("fill", "#6f7983");
svg.append("text").attr("x", 48).attr("y", 44).text(subtitleText)
  .attr("font-size", 10.5).attr("fill", blue);

facetKeys.forEach(key => {
  const L = layout[key];
  const y = d3.scaleLinear().domain(L.domain).range([L.bottom, L.top]);
  const g = svg.append("g");
  const ticks = ticksByKey[key];
  const step = ticks[1] - ticks[0];
  const minor = d3.range(ticks[0] - step / 2, ticks[ticks.length - 1] + step, step)
    .filter(v => v > L.domain[0] && v < L.domain[1]);
  g.selectAll(".mn").data(minor).join("line")
    .attr("x1", left).attr("x2", right).attr("y1", d => y(d)).attr("y2", d => y(d))
    .attr("stroke", "#e0e0e0").attr("stroke-width", 0.8);
  g.selectAll(".mj").data(ticks).join("line")
    .attr("x1", left).attr("x2", right).attr("y1", d => y(d)).attr("y2", d => y(d))
    .attr("stroke", "#cfcfcf").attr("stroke-width", 1);
  g.selectAll(".vx").data(xTickLabels).join("line")
    .attr("x1", d => x(parse(d))).attr("x2", d => x(parse(d)))
    .attr("y1", L.top).attr("y2", L.bottom)
    .attr("stroke", "#d4d4d4").attr("stroke-width", 1);
  g.append("line").attr("x1", left).attr("x2", right).attr("y1", y(0)).attr("y2", y(0))
    .attr("stroke", key === "trend" ? "#8e99a4" : blue).attr("stroke-width", key === "trend" ? 1.6 : 1);
  g.selectAll(".yl").data(ticks).join("text")
    .attr("x", 42).attr("y", d => y(d)).attr("dy", "0.35em").attr("text-anchor", "end")
    .attr("font-size", 10).attr("fill", "#4f5e6e").text(d => d);
  g.selectAll(".yt").data(ticks).join("line")
    .attr("x1", 45).attr("x2", left).attr("y1", d => y(d)).attr("y2", d => y(d))
    .attr("stroke", "#cccccc").attr("stroke-width", 0.8);
  const vals = seriesByKey[key];
  const stp = stepByKey[key];
  g.append("g").selectAll("circle").data(vals).join("circle")
    .attr("cx", (d, i) => x(d3.utcDay.offset(t0, i * stp))).attr("cy", d => y(d)).attr("r", 2.2).attr("fill", colNo);
  const av = anomByKey[key];
  g.append("g").selectAll("circle").data(av).join("circle")
    .attr("cx", (d, i) => x(aDates[i])).attr("cy", d => y(d)).attr("r", 2.2).attr("fill", colYes);
  g.append("g").selectAll("circle").data(av).join("circle")
    .attr("cx", (d, i) => x(aDates[i])).attr("cy", d => y(d)).attr("r", 4.7)
    .attr("fill", "none").attr("stroke", colYes).attr("stroke-width", 1).attr("stroke-opacity", 0.8);
  g.append("rect").attr("x", left).attr("y", L.top).attr("width", right - left).attr("height", L.bottom - L.top)
    .attr("fill", "none").attr("stroke", blue).attr("stroke-width", 1);
  g.append("rect").attr("x", 977).attr("y", L.top).attr("width", 22).attr("height", L.bottom - L.top)
    .attr("fill", blue);
  const cy = (L.top + L.bottom) / 2;
  g.append("text").attr("transform", `translate(978.5,${cy}) rotate(90)`)
    .attr("text-anchor", "middle").attr("font-size", 10.5).attr("fill", "#ffffff").text(key);
});

const xb = layout.remainder.bottom;
svg.selectAll(".xt").data(xTickLabels).join("line")
  .attr("x1", d => x(parse(d))).attr("x2", d => x(parse(d))).attr("y1", xb).attr("y2", xb + 3.5)
  .attr("stroke", "#cccccc").attr("stroke-width", 0.8);
svg.selectAll(".xl").data(xTickLabels).join("text")
  .attr("transform", d => `translate(${x(parse(d)) + 3},${xb + 8}) rotate(-30)`)
  .attr("text-anchor", "end").attr("dy", "0.75em").attr("font-size", 10).attr("fill", "#4f5e6e").text(d => d);

svg.append("text").attr("x", (left + right) / 2).attr("y", 533).attr("text-anchor", "middle")
  .attr("font-size", 12).attr("fill", blue).text("datetime");
svg.append("text").attr("transform", `translate(24,263) rotate(-90)`).attr("text-anchor", "middle")
  .attr("font-size", 12).attr("fill", blue).text("value");

const ly = 566;
svg.append("text").attr("x", 444).attr("y", ly).attr("dy", "0.35em").attr("font-size", 12).attr("fill", blue).text(legendTitle);
const keys = [{lab: legendLabels[0], c: colNo, kx: 505.2, tx: 519.7}, {lab: legendLabels[1], c: colYes, kx: 548.7, tx: 564.7}];
keys.forEach(k => {
  svg.append("circle").attr("cx", k.kx).attr("cy", ly).attr("r", 2.2).attr("fill", k.c);
  svg.append("circle").attr("cx", k.kx).attr("cy", ly).attr("r", 4.5).attr("fill", "none")
    .attr("stroke", k.c).attr("stroke-width", 1).attr("stroke-opacity", 0.7);
  svg.append("text").attr("x", k.tx).attr("y", ly).attr("dy", "0.35em").attr("font-size", 10).attr("fill", blue).text(k.lab);
});

if (observed.length !== 908 || season.length !== 908 || remainder.length !== 908 || trend.length !== 544) {
  svg.append("text").attr("x", 600).attr("y", 30).attr("fill", "red").attr("font-size", 12)
    .text(`len ${observed.length} ${season.length} ${trend.length} ${remainder.length}`);
}
</script>
</body></html>
